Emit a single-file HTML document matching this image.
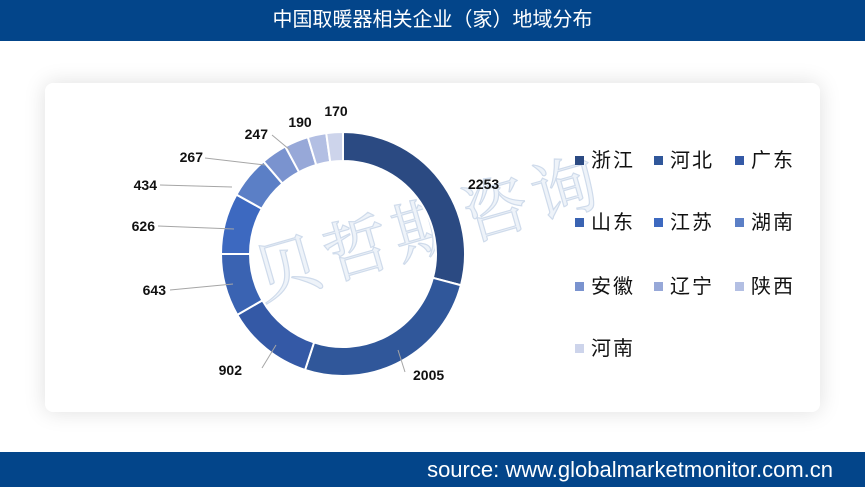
<!DOCTYPE html>
<html><head><meta charset="utf-8"><style>
html,body{margin:0;padding:0;}
body{width:865px;height:487px;position:relative;background:#fff;overflow:hidden;font-family:"Liberation Sans","Noto Sans CJK SC",sans-serif;}
.top{position:absolute;left:0;top:0;width:865px;height:41px;background:#03458a;color:#fff;font-size:20px;line-height:41px;text-align:center;}
.bot{position:absolute;left:0;top:452px;width:865px;height:35px;background:#03458a;color:#fff;font-size:22px;line-height:35px;}
.bot span{position:absolute;right:32px;}
.card{position:absolute;left:45px;top:83px;width:775px;height:329px;background:#fff;border-radius:8px;box-shadow:0 0 22px rgba(0,0,0,0.13);}
svg{position:absolute;left:0;top:0;}
</style></head><body>
<div class="top">中国取暖器相关企业（家）地域分布</div>
<div class="card"></div>
<svg width="865" height="487" id="s" font-family="Liberation Sans, Noto Sans CJK SC, sans-serif">
<text x="262" y="300" font-size="66" fill="#eef3f9" stroke="#cfdbeb" stroke-width="1.2" font-family="Noto Serif CJK SC, serif" transform="rotate(-16 262 300)" letter-spacing="6">贝哲斯咨询</text>
</svg>
<div class="bot"><span>source: www.globalmarketmonitor.com.cn</span></div>
<script>
var d=[["浙江",2253,"#2b4a82"],["河北",2005,"#30579a"],["广东",902,"#3459a6"],["山东",643,"#3a63b2"],["江苏",626,"#3d69c0"],["湖南",434,"#5b7fc6"],["安徽",267,"#7a93cf"],["辽宁",247,"#97a8d8"],["陕西",190,"#b3bfe3"],["河南",170,"#cdd4eb"]];
var lab=[[468,189,"start",null],[413,380,"start",[398,350,405,372]],[242,375,"end",[276,345,262,368]],[166,295,"end",[233,284,170,290]],[155,231,"end",[234,229,158,226]],[157,190,"end",[232,187,160,185]],[203,162,"end",[265,165,205,158]],[268,139,"end",[290,150,272,135]],[300,127,null,null],[336,116,null,null]];
var vals=["2253","2005","902","643","626","434","267","247","190","170"];
var cx=343,cy=254,R=122,r=93,T=7737,a=0,s=document.getElementById('s'),h='';
function p(rad,ang){return [cx+rad*Math.sin(ang),cy-rad*Math.cos(ang)];}
d.forEach(function(e,i){var a1=a+e[1]/T*2*Math.PI;var A=p(R,a),B=p(R,a1),C=p(r,a1),D=p(r,a);var lg=(a1-a)>Math.PI?1:0;
h+='<path d="M'+A+' A'+R+' '+R+' 0 '+lg+' 1 '+B+' L'+C+' A'+r+' '+r+' 0 '+lg+' 0 '+D+'Z" fill="'+e[2]+'" stroke="#fff" stroke-width="2"/>';a=a1;});
lab.forEach(function(l,i){if(l[3])h+='<polyline points="'+l[3][0]+','+l[3][1]+' '+l[3][2]+','+l[3][3]+'" fill="none" stroke="#a6a6a6" stroke-width="1"/>';
h+='<text x="'+l[0]+'" y="'+l[1]+'" font-size="14" font-weight="bold" fill="#111" text-anchor="'+(l[2]||'middle')+'">'+vals[i]+'</text>';});
var cols=[577,656,737],rows=[160,222,286,348];
d.forEach(function(e,i){var x=cols[i%3],y=rows[Math.floor(i/3)];h+='<rect x="'+(x-2)+'" y="'+(y-4)+'" width="9" height="9" fill="'+e[2]+'"/><text x="'+(x+14)+'" y="'+(y+7)+'" font-size="20" fill="#111" letter-spacing="2">'+e[0]+'</text>';});
s.insertAdjacentHTML('beforeend',h);
</script>
</body></html>
